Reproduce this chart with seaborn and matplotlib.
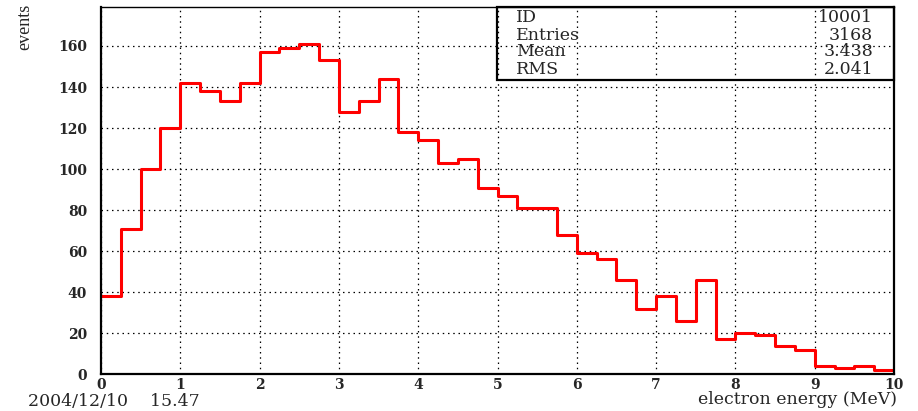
import numpy as np
import pandas as pd
import matplotlib.pyplot as plt
import seaborn as sns
from matplotlib.patches import Rectangle
from matplotlib.ticker import MultipleLocator

# histogram bin edges (MeV) and counts per bin
bin_edges = [i * 0.25 for i in range(41)]
counts = [38, 71, 100, 120, 142, 138, 133, 142, 157, 159,
          161, 153, 128, 133, 144, 118, 114, 103, 105, 91,
          87, 81, 81, 68, 59, 56, 46, 32, 38, 26,
          46, 17, 20, 19, 14, 12, 4, 3, 4, 2]
bin_centers = np.array(bin_edges[:-1]) + 0.125

stat_names = ["ID", "Entries", "Mean", "RMS"]
stat_values = ["10001", "3168", "3.438", "2.041"]

df = pd.DataFrame({"energy": bin_centers, "n": counts})

sns.set_style("white")
plt.rcParams['font.family'] = ['DejaVu Serif']

W, H = 918, 411
fig = plt.figure(figsize=(W / 100, H / 100), dpi=100)
ax = fig.add_axes([101 / W, 1 - 374.3 / H, 793 / W, 367.3 / H])

sns.histplot(data=df, x="energy", weights="n", bins=bin_edges, element="step",
             fill=False, color="red", linewidth=2.2, ax=ax)

ax.set_xlim(0, 10)
ax.set_ylim(0, 179)
ax.xaxis.set_major_locator(MultipleLocator(1))
ax.xaxis.set_minor_locator(MultipleLocator(0.2))
ax.yaxis.set_major_locator(MultipleLocator(20))
ax.yaxis.set_minor_locator(MultipleLocator(5))
ax.tick_params(which="both", direction="in", color="black", width=1.2)
ax.tick_params(which="major", length=7, labelsize=10)
ax.tick_params(axis="x", which="major", pad=3)
ax.tick_params(axis="y", which="major", pad=10)
ax.tick_params(which="minor", length=4)
for lab in ax.get_xticklabels() + ax.get_yticklabels():
    lab.set_fontweight("bold")
ax.grid(True, which="major", linestyle=(0, (1.2, 3)), color="black", linewidth=0.9)
ax.set_axisbelow(True)
for side in ["left", "bottom", "right"]:
    ax.spines[side].set_linewidth(1.6)
ax.spines["top"].set_linewidth(1.0)
for sp in ax.spines.values():
    sp.set_color("black")
ax.set_xlabel("")
ax.set_ylabel("")

# stats box (transparent, grid shows through)
ax.add_patch(Rectangle((0.4994, 0.801), 0.5006, 0.199, transform=ax.transAxes,
                       fill=False, edgecolor="black", linewidth=1.6, clip_on=False, zorder=5))
rows_y = [22, 39.5, 56.5, 73.5]
for name, val, y in zip(stat_names, stat_values, rows_y):
    fig.text(516 / W, 1 - y / H, name, fontsize=12.5, va="baseline", ha="left")
    fig.text(873 / W, 1 - y / H, val, fontsize=12.5, va="baseline", ha="right")

fig.text(25 / W, 1 - 4 / H, "events", rotation=90, fontsize=13, va="top", ha="center",
         family="Liberation Serif")
fig.text(897 / W, 1 - 404 / H, "electron energy (MeV)", fontsize=12.5, va="baseline", ha="right")
fig.text(28 / W, 1 - 406 / H, "2004/12/10    15.47", fontsize=12.5, va="baseline", ha="left")

fig.savefig("out.png", dpi=100)
